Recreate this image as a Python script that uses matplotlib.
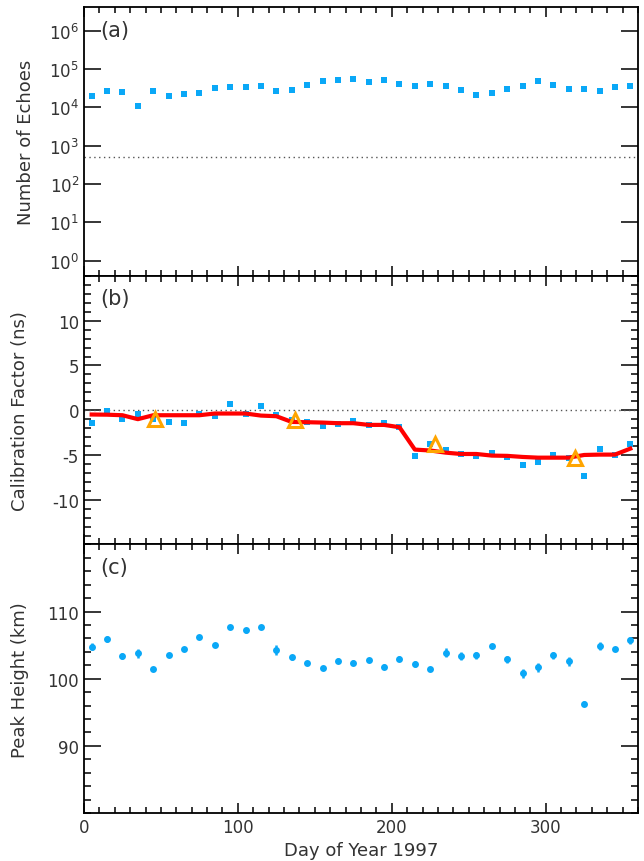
import numpy as np
import matplotlib.pyplot as plt
from matplotlib.ticker import MultipleLocator, LogLocator, NullLocator, LogFormatterMathtext

# 10-day bins through 1997
days = np.arange(5, 360, 10)

# (a) echo counts per bin
echoes = [19500, 27000, 25000, 10800, 27000, 20000, 22000, 24000, 32000, 34000,
          34000, 36000, 26000, 29000, 39000, 47000, 51000, 55000, 45000, 52000,
          40000, 35000, 41000, 35000, 27500, 21000, 23500, 30000, 35000, 47000,
          38000, 30000, 29500, 26000, 33000, 36000]
echo_threshold = 500

# (b) calibration factor per bin (ns) and smoothed curve
calib = [-1.38, -0.1, -0.97, -0.45, -0.97, -1.27, -1.38, -0.37, -0.6, 0.75,
         -0.37, 0.45, -0.52, -1.08, -1.34, -1.79, -1.49, -1.15, -1.64, -1.38,
         -1.87, -5.07, -3.8, -4.4, -4.93, -5.1, -4.78, -5.23, -6.12, -5.82,
         -4.96, -5.37, -7.39, -4.33, -4.96, -3.77]
calib_err = [0.15] * 28 + [0.25, 0.2] + [0.15] * 6
calib_fit = [-0.48, -0.5, -0.56, -1.0, -0.56, -0.56, -0.56, -0.56, -0.37, -0.37,
             -0.37, -0.6, -0.67, -1.31, -1.34, -1.38, -1.45, -1.45, -1.64, -1.64,
             -1.9, -4.4, -4.5, -4.74, -4.89, -4.89, -5.07, -5.1, -5.22, -5.3,
             -5.3, -5.3, -5.0, -4.96, -4.96, -4.29]
ref_days = [46, 137, 228, 319]
ref_calib = [-0.97, -1.08, -3.8, -5.37]

# (c) meteor peak height per bin (km)
peak = [104.8, 105.9, 103.4, 103.8, 101.4, 103.6, 104.5, 106.2, 105.0, 107.7,
        107.2, 107.7, 104.3, 103.2, 102.4, 101.6, 102.7, 102.4, 102.8, 101.8,
        103.0, 102.2, 101.4, 103.9, 103.4, 103.5, 104.9, 102.9, 100.8, 101.7,
        103.5, 102.6, 96.3, 104.9, 104.5, 105.7]
peak_err = [0.5, 0.5, 0.4, 0.7, 0.3, 0.3, 0.3, 0.3, 0.3, 0.3,
            0.4, 0.3, 0.7, 0.4, 0.3, 0.3, 0.4, 0.4, 0.3, 0.4,
            0.4, 0.4, 0.3, 0.7, 0.6, 0.5, 0.3, 0.5, 0.7, 0.7,
            0.5, 0.7, 0.4, 0.6, 0.3, 0.5]

blue = '#0aa8f7'
txt = '#333333'
plt.rcParams['font.family'] = 'DejaVu Sans'
plt.rcParams['axes.linewidth'] = 1.3
plt.rcParams['axes.unicode_minus'] = False

fig = plt.figure(figsize=(6.44, 8.62), dpi=100)
left, width, h = 0.1304, 0.8603, 0.3115
bottoms = [0.6787, 0.3672, 0.0557]
axes = [fig.add_axes([left, b, width, h]) for b in bottoms]

for ax in axes:
    ax.set_xlim(0, 360)
    ax.xaxis.set_major_locator(MultipleLocator(100))
    ax.xaxis.set_minor_locator(MultipleLocator(10))
    ax.tick_params(which='both', direction='in', top=True, right=True,
                   colors='black', labelcolor=txt, labelsize=12, width=1.1)
    ax.tick_params(axis='x', which='major', length=7)
    ax.tick_params(axis='x', which='minor', length=4)
    ax.tick_params(axis='y', which='major', length=12)
    ax.tick_params(axis='y', which='minor', length=5)

# (a)
ax = axes[0]
ax.set_yscale('log')
ax.set_ylim(0.4, 4e6)
ax.yaxis.set_major_locator(LogLocator(base=10, numticks=10))
ax.yaxis.set_major_formatter(LogFormatterMathtext())
ax.yaxis.set_minor_locator(NullLocator())
ax.axhline(echo_threshold, color='#555555', linestyle=(0, (1, 2.5)), linewidth=1)
ax.plot(days, echoes, 's', color=blue, markersize=4.5, markeredgewidth=0)
ax.set_ylabel('Number of Echoes', fontsize=13, color=txt)
ax.yaxis.set_label_coords(-0.089, 0.5)
ax.set_xticklabels([])

# (b)
ax = axes[1]
ax.set_ylim(-15, 15)
ax.set_yticks([-10, -5, 0, 5, 10])
ax.yaxis.set_minor_locator(MultipleLocator(1))
ax.axhline(0, color='#555555', linestyle=(0, (1, 2.5)), linewidth=1)
ax.errorbar(days, calib, yerr=calib_err, fmt='s', color=blue, markersize=4.5,
            markeredgewidth=0, elinewidth=1.5, capsize=0)
ax.plot(days, calib_fit, '-', color='#ff0000', linewidth=3, zorder=3)
ax.plot(ref_days, ref_calib, '^', markerfacecolor='none', markeredgecolor='#ffa500',
        markeredgewidth=2.2, markersize=10, zorder=4)
ax.set_ylabel('Calibration Factor (ns)', fontsize=13, color=txt)
ax.yaxis.set_label_coords(-0.1, 0.5)
ax.set_xticklabels([])

# (c)
ax = axes[2]
ax.set_ylim(80, 120)
ax.set_yticks([90, 100, 110])
ax.yaxis.set_minor_locator(MultipleLocator(2))
ax.errorbar(days, peak, yerr=peak_err, fmt='o', color=blue, markersize=5,
            markeredgewidth=0, elinewidth=1.8, capsize=0)
ax.set_ylabel('Peak Height (km)', fontsize=13, color=txt)
ax.yaxis.set_label_coords(-0.1, 0.5)
ax.set_xlabel('Day of Year 1997', fontsize=13, color=txt, labelpad=4)

for ax, lab in zip(axes, ['(a)', '(b)', '(c)']):
    ax.text(0.03, 0.955, lab, transform=ax.transAxes, fontsize=15, color=txt,
            ha='left', va='top')

fig.savefig('out.png', dpi=100)
